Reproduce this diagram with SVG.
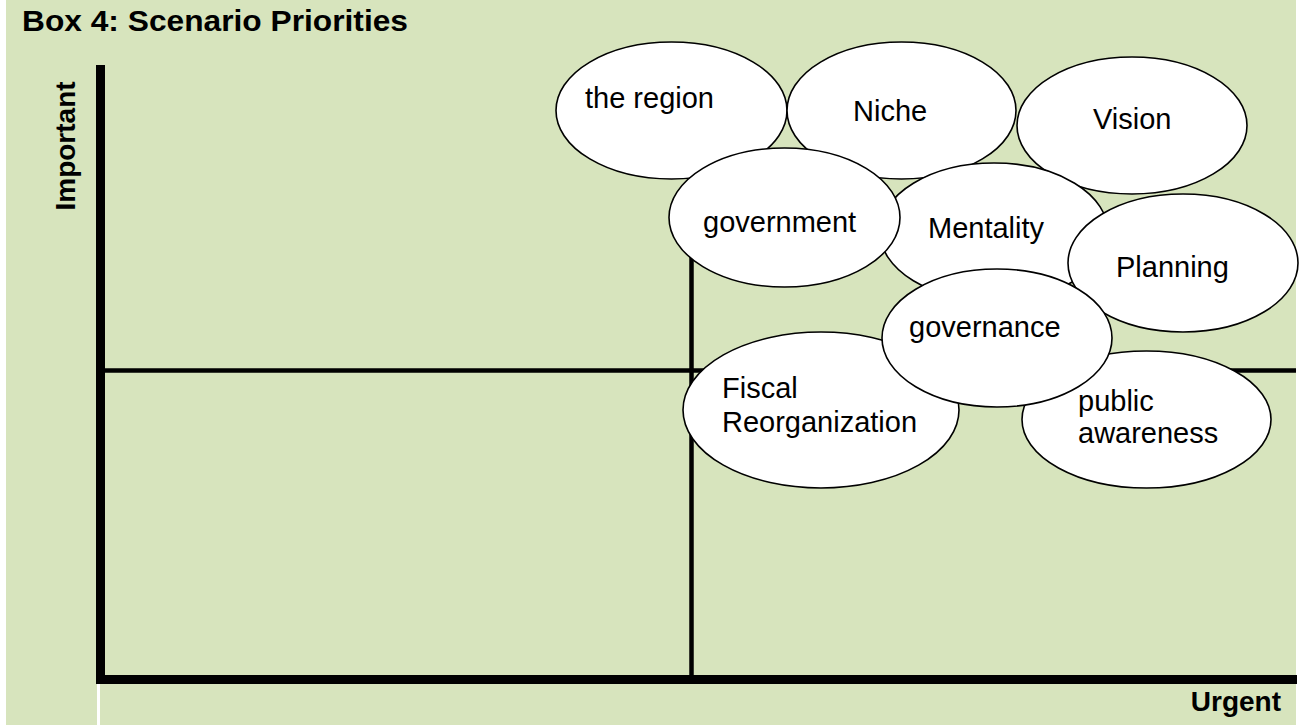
<svg xmlns="http://www.w3.org/2000/svg" width="1300" height="725" viewBox="0 0 1300 725">
<style>
.bg{fill:#d7e4bd}
.ax{stroke:#000;stroke-width:9;fill:none}
.mid{stroke:#000;stroke-width:4.5;fill:none}
.node ellipse{fill:#fff;stroke:#000;stroke-width:1.6}
.lbl{font-family:"Liberation Sans",Arial,sans-serif;font-size:29px;fill:#000}
.bold{font-family:"Liberation Sans",Arial,sans-serif;font-weight:bold;fill:#000}
</style>
<rect x="0" y="0" width="1300" height="725" fill="#fff"/>
<rect class="bg" x="6" y="0" width="1290" height="725"/>
<text class="bold" x="22" y="31" font-size="30" textLength="386" lengthAdjust="spacingAndGlyphs">Box 4: Scenario Priorities</text>
<text class="bold" font-size="28" text-anchor="middle" transform="translate(75,146) rotate(-90)">Important</text>
<text class="bold" font-size="28" x="1281" y="711" text-anchor="end">Urgent</text>
<g id="connectors">
<line class="mid" x1="105" y1="370.5" x2="1296" y2="370.5"/>
<line class="mid" x1="691.5" y1="65" x2="691.5" y2="675"/>
<polyline class="ax" points="100.5,65 100.5,679.5 1297,679.5"/>
<rect x="97" y="684" width="3" height="41" fill="#fff"/>
</g>
<g id="n-region" class="node"><ellipse cx="671.5" cy="110.5" rx="115.5" ry="68.5"/><text class="lbl" x="585" y="108">the region</text></g>
<g id="n-niche" class="node"><ellipse cx="901.5" cy="110.5" rx="114.5" ry="68.5"/><text class="lbl" x="853" y="121">Niche</text></g>
<g id="n-vision" class="node"><ellipse cx="1132" cy="125.5" rx="115" ry="68.5"/><text class="lbl" x="1093" y="129">Vision</text></g>
<g id="n-mentality" class="node"><ellipse cx="994" cy="232" rx="114" ry="69"/><text class="lbl" x="928" y="238">Mentality</text></g>
<g id="n-government" class="node"><ellipse cx="784.5" cy="217.5" rx="115.5" ry="69.5"/><text class="lbl" x="703" y="232">government</text></g>
<g id="n-planning" class="node"><ellipse cx="1183" cy="263" rx="115" ry="69"/><text class="lbl" x="1116" y="277">Planning</text></g>
<g id="n-fiscal" class="node"><ellipse cx="821" cy="410" rx="138" ry="78"/><text class="lbl" x="722" y="398">Fiscal</text><text class="lbl" x="722" y="432">Reorganization</text></g>
<g id="n-public" class="node"><ellipse cx="1146.5" cy="419.5" rx="124.5" ry="68.5"/><text class="lbl" x="1078" y="411">public</text><text class="lbl" x="1078" y="443">awareness</text></g>
<g id="n-governance" class="node"><ellipse cx="997" cy="338" rx="115" ry="69"/><text class="lbl" x="909" y="337">governance</text></g>
</svg>
